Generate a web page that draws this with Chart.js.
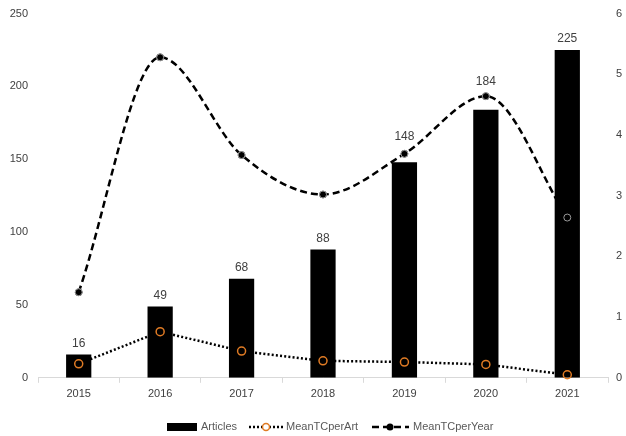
<!DOCTYPE html>
<html>
<head>
<meta charset="utf-8">
<script src="https://cdn.jsdelivr.net/npm/chart.js@4/dist/chart.umd.min.js"></script>
<style>
  html, body { margin: 0; padding: 0; background: #fff; }
  #wrap { position: relative; width: 626px; height: 436px; overflow: hidden; }
  #myChart { position: absolute; left: 0; top: -3px; }
  .leg { position: absolute; top: 420px; height: 14px; line-height: 14px;
    font: 11px 'Liberation Sans', Arial, sans-serif; color: #595959; white-space: nowrap; }
  .leg svg { position: absolute; top: 2px; }
</style>
</head>
<body>
<div id="wrap">
  <canvas id="myChart" width="626" height="440"></canvas>
  <div class="leg" style="left:167px"><svg width="30" height="10" style="left:0"><rect x="0" y="1" width="30" height="8" fill="#000"/></svg><span style="margin-left:34px">Articles</span></div>
  <div class="leg" style="left:249px"><svg width="34" height="10" style="left:0"><line x1="0" y1="5" x2="34" y2="5" stroke="#000" stroke-width="2.5" stroke-dasharray="2,2"/><circle cx="17" cy="5" r="3.5" fill="#fff" stroke="#E07B24" stroke-width="1.5"/></svg><span style="margin-left:37px">MeanTCperArt</span></div>
  <div class="leg" style="left:372px"><svg width="37" height="10" style="left:0"><line x1="0" y1="5" x2="37" y2="5" stroke="#000" stroke-width="2.5" stroke-dasharray="7,4"/><circle cx="18" cy="5" r="3.5" fill="#000"/></svg><span style="margin-left:41px">MeanTCperYear</span></div>
</div>
<script>
var years = ["2015", "2016", "2017", "2018", "2019", "2020", "2021"]
var articles = [16, 49, 68, 88, 148, 184, 225]
var meanTCperArt = [0.23, 0.76, 0.44, 0.28, 0.26, 0.22, 0.05]
var meanTCperYear = [1.41, 5.28, 3.67, 3.02, 3.69, 4.64, 2.64]
var leftMax = 250, leftStep = 50
var rightMax = 6, rightStep = 1

var fontFamily = "'Liberation Sans', Arial, sans-serif"
var textColor = "#404040"
// some value labels were lifted clear of the curve in the original
var labelLift = [5, 5, 5, 5, 20, 22, 5]

var barLabels = {
  id: "barLabels",
  afterDatasetsDraw: function (chart) {
    var ctx = chart.ctx
    var meta = chart.getDatasetMeta(0)
    ctx.save()
    ctx.font = "12px " + fontFamily
    ctx.fillStyle = textColor
    ctx.textAlign = "center"
    ctx.textBaseline = "bottom"
    meta.data.forEach(function (bar, i) {
      ctx.fillText(articles[i], bar.x, bar.y - labelLift[i])
    })
    // markers go on top of the bars, the lines stay behind them
    for (var d = 1; d <= 2; d++) {
      chart.getDatasetMeta(d).data.forEach(function (pt) {
        pt.draw(ctx, chart.chartArea)
      })
    }
    ctx.restore()
  }
}

new Chart("myChart", {
  type: "bar",
  data: {
    labels: years,
    datasets: [{
      label: "Articles",
      data: articles,
      backgroundColor: "#000",
      barPercentage: 0.31,
      categoryPercentage: 1,
      yAxisID: "y",
      order: 1
    }, {
      type: "line",
      label: "MeanTCperArt",
      data: meanTCperArt,
      borderColor: "#000",
      borderWidth: 2.5,
      borderDash: [2, 2.2],
      borderCapStyle: "butt",
      tension: 0,
      fill: false,
      pointRadius: 4,
      pointBorderWidth: 1.5,
      pointBorderColor: "#E07B24",
      pointBackgroundColor: "rgba(0,0,0,0)",
      yAxisID: "y1",
      order: 3
    }, {
      type: "line",
      label: "MeanTCperYear",
      data: meanTCperYear,
      borderColor: "#000",
      borderWidth: 2.5,
      borderDash: [7, 4],
      cubicInterpolationMode: "monotone",
      fill: false,
      pointRadius: 3.5,
      pointBorderWidth: 1,
      pointBorderColor: "#9a9a9a",
      pointBackgroundColor: "#000",
      yAxisID: "y1",
      order: 2
    }]
  },
  options: {
    responsive: false,
    animation: false,
    layout: { padding: { top: 0, bottom: 31, left: 0, right: 0 } },
    plugins: {
      legend: { display: false },
      tooltip: { enabled: false }
    },
    scales: {
      x: {
        grid: { display: true, offset: true, drawOnChartArea: false, color: "#d9d9d9", tickLength: 5 },
        border: { color: "#d9d9d9" },
        ticks: { color: textColor, font: { family: fontFamily, size: 11 }, padding: 5 }
      },
      y: {
        position: "left",
        min: 0, max: leftMax,
        afterFit: function (s) { s.width = 38 },
        grid: { display: false, drawTicks: false },
        border: { display: false },
        ticks: { stepSize: leftStep, color: textColor, font: { family: fontFamily, size: 11 }, padding: 10 }
      },
      y1: {
        position: "right",
        min: 0, max: rightMax,
        afterFit: function (s) { s.width = 18 },
        grid: { display: false, drawTicks: false },
        border: { display: false },
        ticks: { stepSize: rightStep, color: textColor, font: { family: fontFamily, size: 11 }, padding: 8 }
      }
    }
  },
  plugins: [barLabels]
})
</script>
</body>
</html>
